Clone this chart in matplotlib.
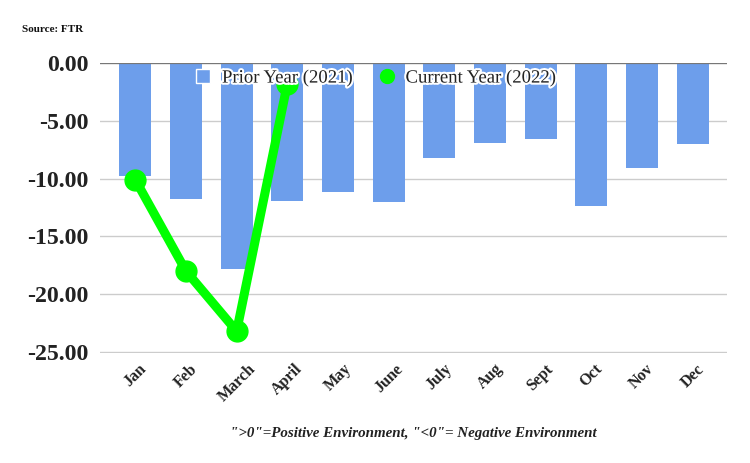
import matplotlib
matplotlib.use("Agg")
import matplotlib.pyplot as plt
from matplotlib.lines import Line2D
import matplotlib.patheffects as pe

months = ["Jan", "Feb", "March", "April", "May", "June", "July", "Aug", "Sept", "Oct", "Nov", "Dec"]
prior_2021 = [-9.8, -11.8, -17.8, -11.9, -11.2, -12.0, -8.2, -6.9, -6.6, -12.4, -9.1, -7.0]
current_2022 = [-10.1, -18.0, -23.2, -1.8]
yticks = [0, -5, -10, -15, -20, -25]

BLUE = "#6d9eeb"
GREEN = "#00ff00"
SERIF = ["Liberation Serif", "DejaVu Serif"]

fig = plt.figure(figsize=(7.5, 4.63), dpi=100)
ax = fig.add_axes([100/750, 1-352.7/463, 627/750, (352.7-63)/463])

x = list(range(len(months)))
ax.bar(x, prior_2021, width=0.63, color=BLUE, zorder=2)
ax.plot(range(len(current_2022)), current_2022, color=GREEN, lw=6.5, marker="o",
        markersize=15, zorder=3, clip_on=False, solid_capstyle="round")

ax.set_ylim(-25.06, 0)
ax.set_xlim(-0.5 - 10/50.68, 11.5 + 9/50.68)
ax.set_yticks(yticks)
ax.set_yticklabels([f"{v:.2f}" for v in yticks], fontfamily=SERIF, fontweight="bold",
                   fontsize=17.2, color="#222222")
ax.set_xticks(x)
ax.set_xticklabels(months, rotation=45, ha="center", va="top", fontfamily=SERIF,
                   fontweight="bold", fontsize=11.5, color="#222222")
ax.tick_params(axis="both", length=0)
ax.tick_params(axis="y", pad=8)
ax.tick_params(axis="x", pad=6)
ax.yaxis.grid(True, color="#cccccc", lw=1, zorder=0)
ax.set_axisbelow(True)
for s in ["left", "right", "bottom", "top"]:
    ax.spines[s].set_visible(False)
ax.axhline(0, color="#777777", lw=1.6, zorder=4)

handles = [Line2D([], [], ls="none", marker="s", markersize=10, color=BLUE,
                  markeredgecolor="white", markeredgewidth=1),
           Line2D([], [], ls="none", marker="o", markersize=10, color=GREEN)]
leg = fig.legend(handles, ["Prior Year (2021)", "Current Year (2022)"], loc="center",
                 bbox_to_anchor=(376/750, 1-78/463), ncol=2, frameon=False,
                 prop={"family": SERIF, "size": 13.5}, handlelength=0.8,
                 handletextpad=0.6, columnspacing=1.4)
leg.set_zorder(10)
for t in leg.get_texts():
    t.set_color("#222222")
    t.set_path_effects([pe.withStroke(linewidth=3, foreground="white")])

fig.text(22/750, 1-30/463, "Source: FTR", fontfamily=SERIF, fontweight="bold",
         fontsize=8, va="center", ha="left", color="#111111")
fig.text(413/750, 1-433/463, "\">0\"=Positive Environment, \"<0\"= Negative Environment",
         fontfamily=SERIF, fontstyle="italic", fontweight="bold", fontsize=10.8,
         ha="center", va="center", color="#222222")

fig.savefig("out.png", dpi=100)
